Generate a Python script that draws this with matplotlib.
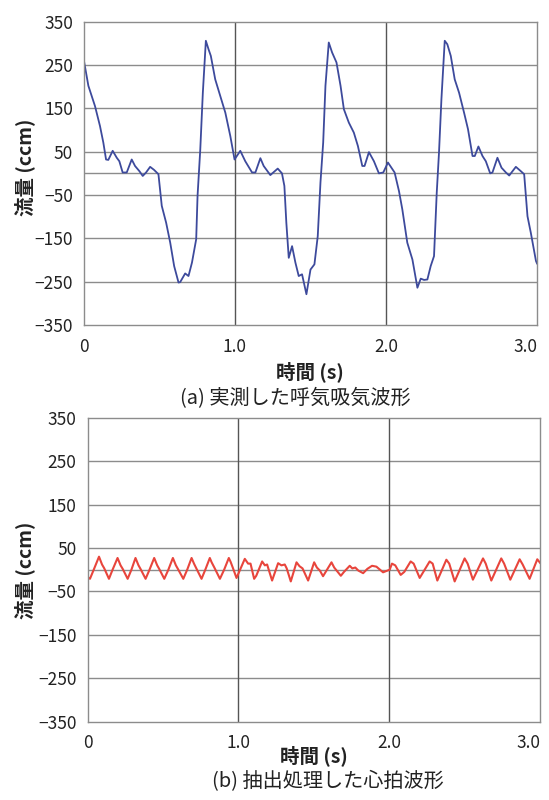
import matplotlib.pyplot as plt

plt.rcParams['font.family'] = ['Noto Sans CJK JP', 'DejaVu Sans']

# (a) measured breathing flow: time (s), flow (ccm)
t_a = [0.000, 0.029, 0.073, 0.106, 0.128, 0.146, 0.161, 0.190, 0.217, 0.234,
       0.256, 0.283, 0.316, 0.338, 0.367, 0.389, 0.411, 0.438, 0.464, 0.493,
       0.515, 0.544, 0.571, 0.597, 0.626, 0.637, 0.670, 0.692, 0.715, 0.743,
       0.752, 0.770, 0.787, 0.807, 0.825, 0.840, 0.869, 0.902, 0.936, 0.969,
       0.997, 1.035, 1.068, 1.113, 1.135, 1.168, 1.190, 1.234, 1.283, 1.311,
       1.327, 1.340, 1.356, 1.378, 1.400, 1.422, 1.444, 1.473, 1.500, 1.526,
       1.548, 1.566, 1.584, 1.599, 1.621, 1.643, 1.672, 1.699, 1.721, 1.754,
       1.787, 1.814, 1.843, 1.858, 1.887, 1.920, 1.953, 1.982, 2.013, 2.057,
       2.086, 2.108, 2.141, 2.175, 2.208, 2.230, 2.252, 2.274, 2.296, 2.318,
       2.336, 2.351, 2.367, 2.389, 2.406, 2.429, 2.455, 2.484, 2.517, 2.543,
       2.573, 2.588, 2.612, 2.639, 2.661, 2.690, 2.705, 2.738, 2.765, 2.794,
       2.816, 2.860, 2.893, 2.915, 2.937, 2.959, 2.993, 3.000]
flow_a = [259, 202, 155, 109, 71, 32, 31, 52, 36, 28,
          2, 2, 32, 17, 5, -6, 2, 15, 8, -2,
          -75, -114, -160, -214, -252, -251, -231, -237, -206, -152,
          -52, 55, 186, 306, 286, 271, 217, 179, 140, 86,
          32, 52, 28, 2, 2, 35, 17, -4, 11, 0,
          -29, -114, -195, -168, -206, -237, -233, -279, -222, -210,
          -145, -21, 71, 202, 302, 279, 256, 202, 148, 117,
          94, 63, 17, 17, 49, 28, 0, 2, 25, 2,
          -41, -83, -160, -199, -264, -243, -246, -245, -214, -191,
          -45, 48, 171, 306, 298, 271, 217, 186, 140, 102,
          40, 40, 62, 40, 28, 0, 2, 36, 13, 2,
          -5, 15, 5, -2, -99, -137, -202, -208]

# (b) extracted heartbeat flow
t_b = [0.000, 0.015, 0.040, 0.075, 0.095, 0.110, 0.141, 0.165, 0.198, 0.218,
       0.232, 0.265, 0.290, 0.317, 0.337, 0.350, 0.384, 0.410, 0.441, 0.461,
       0.474, 0.508, 0.535, 0.565, 0.585, 0.598, 0.634, 0.660, 0.689, 0.705,
       0.722, 0.755, 0.780, 0.810, 0.822, 0.840, 0.877, 0.905, 0.936, 0.948,
       0.962, 0.987, 1.042, 1.064, 1.080, 1.104, 1.118, 1.157, 1.175, 1.190,
       1.223, 1.263, 1.285, 1.307, 1.320, 1.347, 1.385, 1.405, 1.425, 1.462,
       1.502, 1.520, 1.540, 1.561, 1.617, 1.635, 1.679, 1.700, 1.738, 1.755,
       1.775, 1.795, 1.827, 1.855, 1.886, 1.915, 1.959, 2.003, 2.018, 2.040,
       2.076, 2.100, 2.142, 2.162, 2.202, 2.268, 2.288, 2.319, 2.379, 2.398,
       2.434, 2.500, 2.520, 2.555, 2.622, 2.640, 2.677, 2.743, 2.762, 2.803,
       2.865, 2.885, 2.931, 2.982, 3.000]
flow_b = [-17, -21, 0, 30, 12, 3, -21, 0, 27, 10,
          2, -21, 0, 27, 10, 2, -21, 0, 27, 10,
          2, -21, 0, 27, 10, 2, -21, 0, 27, 14,
          2, -21, 0, 27, 17, 5, -21, 0, 27, 18,
          5, -19, 25, 14, 14, -21, -14, 19, 10, 12,
          -25, 15, 10, 12, 3, -27, 17, 8, 3, -25,
          17, 5, -2, -15, 17, 5, -14, -5, 9, 3,
          5, -2, -8, 2, 9, 7, -6, 0, 14, 10,
          -12, -5, 19, 14, -19, 19, 14, -25, 23, 14,
          -27, 26, 14, -23, 26, 14, -25, 26, 14, -23,
          24, 12, -21, 24, 16]

yticks = [350, 250, 150, 50, -50, -150, -250, -350]
xticks = [0, 1.0, 2.0, 3.0]
xticklabels = ['0', '1.0', '2.0', '3.0']

fig = plt.figure(figsize=(5.49, 8), dpi=100)
ax1 = fig.add_axes([84/549, 1-325/800, 453/549, 303.3/800])
ax2 = fig.add_axes([87.7/549, 1-721.7/800, 452.3/549, 304/800])


def style(ax):
    ax.set_xlim(0, 3)
    ax.set_ylim(-350, 350)
    ax.set_yticks(yticks)
    ax.set_xticks(xticks)
    ax.set_xticklabels(xticklabels)
    ax.tick_params(length=0, labelsize=12.5, colors='#222222')
    ax.tick_params(axis='y', pad=8)
    ax.tick_params(axis='x', pad=9)
    # last label would run past the figure edge, pull it inward
    ax.get_xticklabels()[-1].set_horizontalalignment('right')
    ax.get_xticklabels()[-1].set_x(3.03)
    for y in yticks[1:-1] + [0]:
        ax.axhline(y, color='#8c8c8c', lw=1.0, zorder=0)
    for x in xticks[1:-1]:
        ax.axvline(x, color='#555555', lw=1.0, zorder=0)
    for s in ax.spines.values():
        s.set_color('#8c8c8c')
        s.set_linewidth(1.0)


style(ax1)
style(ax2)

ax1.plot(t_a, flow_a, color='#3d4a9c', lw=1.3)
ax2.plot(t_b, flow_b, color='#e8453c', lw=1.5)

# axis labels and captions
fig.text(25/549, 1-167/800, '流量 (ccm)', rotation=90, ha='center', va='center',
         fontsize=14, fontweight='bold', color='#222222')
fig.text(25/549, 1-570/800, '流量 (ccm)', rotation=90, ha='center', va='center',
         fontsize=14, fontweight='bold', color='#222222')
fig.text(310/549, 1-372/800, '時間 (s)', ha='center', va='center',
         fontsize=14, fontweight='bold', color='#222222')
fig.text(314/549, 1-756/800, '時間 (s)', ha='center', va='center',
         fontsize=14, fontweight='bold', color='#222222')
fig.text(295/549, 1-399/800, '(a) 実測した呼気吸気波形', ha='center', va='center',
         fontsize=14.5, color='#222222')
fig.text(328/549, 1-782/800, '(b) 抽出処理した心拍波形', ha='center', va='center',
         fontsize=14.5, color='#222222')

fig.savefig('out.png', dpi=100)
